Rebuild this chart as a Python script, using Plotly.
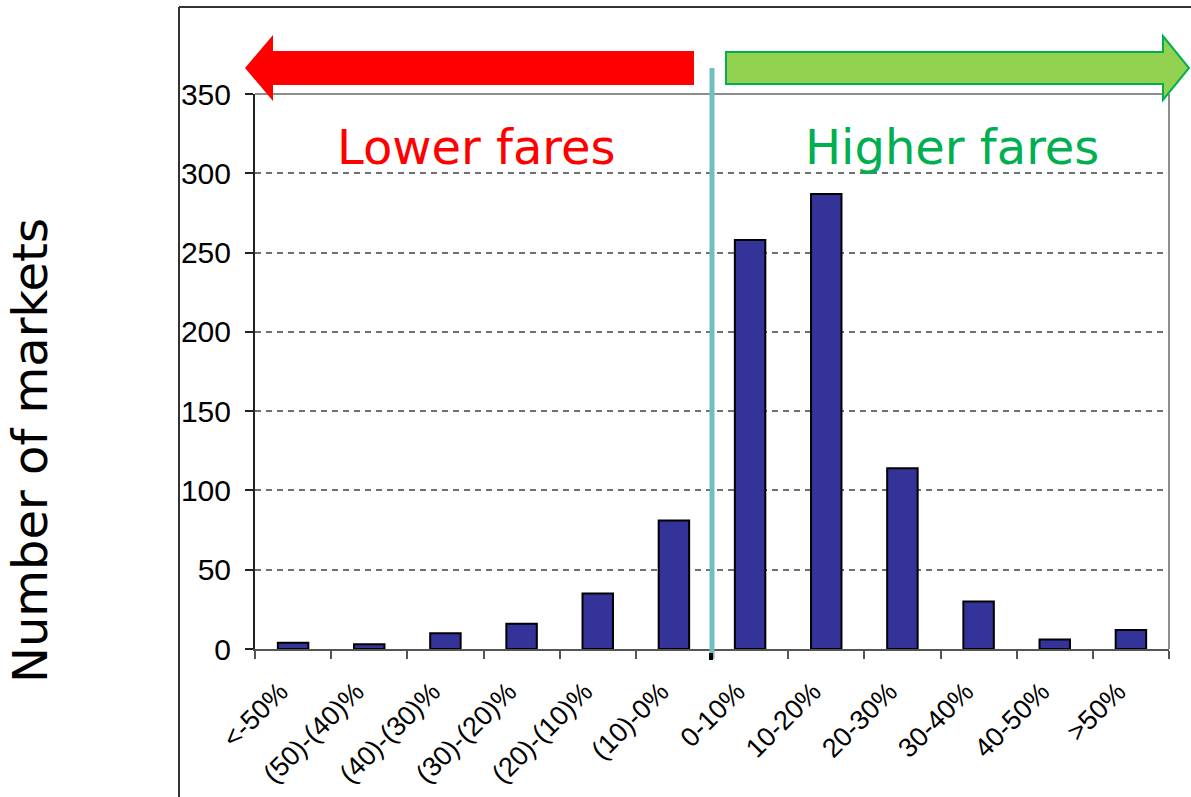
import plotly.graph_objects as go

# Distribution of fare changes across markets
categories = ["<-50%", "(50)-(40)%", "(40)-(30)%", "(30)-(20)%", "(20)-(10)%", "(10)-0%",
              "0-10%", "10-20%", "20-30%", "30-40%", "40-50%", ">50%"]
markets = [4, 3, 10, 16, 35, 81, 258, 287, 114, 30, 6, 12]
y_ticks = [0, 50, 100, 150, 200, 250, 300, 350]

W, H = 1191, 797
L, R, T, B = 255, 22, 94, 148
PW, PH = W - L - R, H - T - B


def px(x):
    return (x - L) / PW


def py(y):
    return (H - B - y) / PH


fig = go.Figure()
fig.add_trace(go.Bar(
    x=categories, y=markets,
    marker=dict(color="#333399", line=dict(color="#000000", width=2)),
    width=0.4,
))

shapes = []
# outer frame (left and top edges)
shapes.append(dict(type="line", xref="paper", yref="paper", x0=px(179), x1=px(1195),
                   y0=py(7), y1=py(7), line=dict(color="#333333", width=2)))
shapes.append(dict(type="line", xref="paper", yref="paper", x0=px(179), x1=px(179),
                   y0=py(7), y1=py(800), line=dict(color="#333333", width=2)))
# plot area border, top and right
shapes.append(dict(type="line", xref="paper", yref="paper", x0=0, x1=1, y0=1, y1=1,
                   line=dict(color="#8c8c8c", width=2)))
shapes.append(dict(type="line", xref="paper", yref="paper", x0=1, x1=1, y0=0, y1=1,
                   line=dict(color="#8c8c8c", width=2)))

# red arrow pointing left
ry = 68
red_path = (f"M {px(245)},{py(ry)} L {px(273)},{py(35)} L {px(273)},{py(51)} "
            f"L {px(694)},{py(51)} L {px(694)},{py(85)} L {px(273)},{py(85)} "
            f"L {px(273)},{py(101)} Z")
shapes.append(dict(type="path", xref="paper", yref="paper", path=red_path,
                   fillcolor="#FF0000", line=dict(width=0)))
# green arrow pointing right
green_path = (f"M {px(726)},{py(52)} L {px(1163)},{py(52)} L {px(1163)},{py(36)} "
              f"L {px(1189)},{py(ry)} L {px(1163)},{py(100)} L {px(1163)},{py(84)} "
              f"L {px(726)},{py(84)} Z")
shapes.append(dict(type="path", xref="paper", yref="paper", path=green_path,
                   fillcolor="#92D050", line=dict(color="#00B050", width=2)))

# divider between lower and higher fares
shapes.append(dict(type="line", xref="paper", yref="paper", x0=0.5, x1=0.5,
                   y0=py(68), y1=py(659), line=dict(color="#70BDC4", width=5)))
shapes.append(dict(type="rect", xref="paper", yref="paper", x0=px(709), x1=px(713),
                   y0=py(653), y1=py(660), fillcolor="#000000", line=dict(width=0)))

annotations = [
    dict(text="Lower fares", xref="paper", yref="paper", x=px(476), y=py(147),
         showarrow=False, xanchor="center", yanchor="middle",
         font=dict(family="DejaVu Sans", size=48, color="#FF0000")),
    dict(text="Higher fares", xref="paper", yref="paper", x=px(952), y=py(147),
         showarrow=False, xanchor="center", yanchor="middle",
         font=dict(family="DejaVu Sans", size=48, color="#00B050")),
    dict(text="Number of markets", xref="paper", yref="paper", x=px(30), y=py(451),
         showarrow=False, xanchor="center", yanchor="middle", textangle=-90,
         font=dict(family="DejaVu Sans", size=48, color="#000000")),
]

fig.update_layout(
    width=W, height=H,
    margin=dict(l=L, r=R, t=T, b=B, autoexpand=False),
    paper_bgcolor="white", plot_bgcolor="white",
    showlegend=False,
    shapes=shapes, annotations=annotations,
    xaxis=dict(
        type="category", range=[-0.5, 11.5],
        showline=True, linecolor="#555555", linewidth=2,
        ticks="outside", tickson="boundaries", ticklen=8, tickwidth=1.5, tickcolor="#555555",
        tickangle=-45, ticklabelstandoff=14, ticklabelshift=-13,
        tickfont=dict(family="Liberation Sans, Arial", size=27, color="#000000"),
        showgrid=False,
    ),
    yaxis=dict(
        range=[0, 350], tickvals=y_ticks,
        showline=True, linecolor="#222222", linewidth=2,
        ticks="outside", ticklen=8, tickwidth=1.5, tickcolor="#222222",
        ticklabelstandoff=8,
        tickfont=dict(family="Liberation Sans, Arial", size=30, color="#000000"),
        showgrid=True, gridcolor="#707070", gridwidth=1.5, griddash="6px,5px",
        zeroline=False,
    ),
)

fig.write_html("out.html")
